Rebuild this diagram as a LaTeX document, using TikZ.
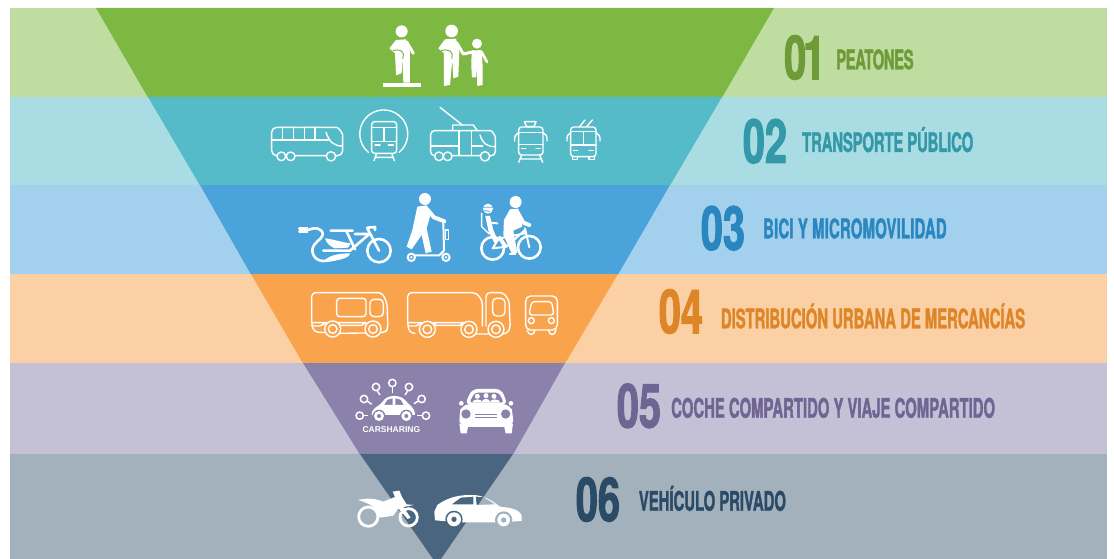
\documentclass[tikz,border=0pt]{standalone}
\usepackage{fontspec}
\newfontfamily\bandfont[FakeStretch=0.55,FakeBold=1.2]{TeX Gyre Heros Bold}
\newfontfamily\numfont[FakeStretch=0.65,FakeBold=1.6]{TeX Gyre Heros Bold}
\newfontfamily\iconfont{Liberation Sans Bold}
\definecolor{verdeL}{HTML}{BFDDA0}
\definecolor{verdeD}{HTML}{7DB942}
\definecolor{verdeT}{HTML}{6E9A38}
\definecolor{turqL}{HTML}{A9DDE3}
\definecolor{turqD}{HTML}{55BBC9}
\definecolor{turqT}{HTML}{3399A8}
\definecolor{azulL}{HTML}{A3D0EC}
\definecolor{azulD}{HTML}{4AA3DB}
\definecolor{azulT}{HTML}{2A86BF}
\definecolor{naraL}{HTML}{FAD0A4}
\definecolor{naraD}{HTML}{F9A44C}
\definecolor{naraT}{HTML}{DE8528}
\definecolor{moraL}{HTML}{C4C1D6}
\definecolor{moraD}{HTML}{8B82AC}
\definecolor{moraT}{HTML}{6E6592}
\definecolor{grisL}{HTML}{A3B1BC}
\definecolor{grisD}{HTML}{4A6580}
\definecolor{grisT}{HTML}{2A4A66}
\tikzset{
  numlabel/.style={anchor=base west,inner sep=0pt,font=\numfont\fontsize{61}{61}\selectfont},
  bandlabel/.style={anchor=base west,inner sep=0pt,font=\bandfont\fontsize{27}{27}\selectfont},
  iconline/.style={draw=white,line width=1.4pt,line cap=round,line join=round},
  iconthick/.style={draw=white,line width=2.6pt,line cap=round,line join=round},
  zoomA/.style={shift={(260,10)},x=0.3333pt,y=-0.3333pt},
  zoomB/.style={shift={(280,180)},x=0.3333pt,y=-0.3333pt},
  zoomC/.style={shift={(340,365)},x=0.3333pt,y=-0.3333pt},
  zoomD/.style={shift={(505,105)},x=0.3333pt,y=-0.3333pt}
}
\begin{document}
\begin{tikzpicture}[x=1pt,y=-1pt]
\useasboundingbox (0,0) rectangle (1114,559);
% bands
\fill [verdeL] (10,8) rectangle (1107,97.5);
\fill [turqL] (10,97) rectangle (1107,185.5);
\fill [azulL] (10,185) rectangle (1107,274.5);
\fill [naraL] (10,274) rectangle (1107,363.5);
\fill [moraL] (10,363) rectangle (1107,454.5);
\fill [grisL] (10,454) rectangle (1107,559);
% funnel
\fill [verdeD] (96,8)--(774,8)--(722,97.5)--(148,97.5)--cycle;
\fill [turqD] (148,97)--(722,97)--(670,185.5)--(200,185.5)--cycle;
\fill [azulD] (200,185)--(670,185)--(618,274.5)--(251,274.5)--cycle;
\fill [naraD] (251,274)--(618,274)--(565,363.5)--(303,363.5)--cycle;
\fill [moraD] (303,363)--(565,363)--(513,454.5)--(360,454.5)--cycle;
\fill [grisD] (360,454)--(513,454)--(441,559)--(433,559)--cycle;
% 01 walkers
\begin{scope}[zoomA]
\fill [white] (370,218) rectangle (482,230);
\fill [white] (425,64) circle (18);
\fill [white] (408,90)--(438,88)--(450,125)--(450,218)--(430,218)--(428,145)--(425,190)--(408,196)--(405,130)--(388,115)--cycle;
\draw [white,line width=3pt,line cap=round] (440,96)--(460,130);
\draw [verdeD,line width=1pt] (398,122) .. controls (420,116) and (436,122) .. (428,146);
\fill [white] (575,63) circle (19);
\fill [white] (555,88)--(588,86)--(598,125)--(595,200)--(580,205)--(577,150)--(570,225)--(552,228)--(552,130)--(535,115)--cycle;
\draw [white,line width=3pt,line cap=round,line join=round] (590,98)--(610,132)--(642,125);
\draw [verdeD,line width=1pt] (543,122) .. controls (565,116) and (582,122) .. (575,146);
\fill [white] (651,101) circle (15);
\fill [white] (635,122)--(665,120)--(668,168)--(668,225)--(652,228)--(650,175)--(648,202)--(636,202)--(634,170)--cycle;
\draw [white,line width=2.6pt,line cap=round] (665,126)--(681,156);
\end{scope}
% 02 transit
\begin{scope}[zoomA]
\draw [iconline,rounded corners=5pt] (35,437)--(35,352)--(215,352) .. controls (235,352) and (248,370) .. (248,390)--(248,437)--cycle;
\draw [iconline] (35,390)--(205,390);
\draw [iconline] (68,352)--(68,390) (100,352)--(100,390) (133,352)--(133,390) (165,352)--(165,390);
\draw [iconline] (198,367) .. controls (208,395) and (220,408) .. (248,408);
\foreach \xw/\rw in {64/13,92/13,213/14}
  \draw [iconline,fill=turqD] (\xw,439) circle (\rw);
\draw [iconline] (325,427) arc [start angle=130,end angle=410,radius=72];
\draw [iconline,rounded corners=3pt] (335,335) rectangle (410,430);
\draw [iconline] (335,352)--(410,352) (372,352)--(372,395) (335,395)--(410,395);
\draw [iconline] (345,405)--(360,405) (385,405)--(400,405);
\draw [iconline] (350,430)--(342,452) (395,430)--(403,452) (347,442)--(398,442);
\draw [iconline] (540,292)--(607,345);
\draw [iconline] (578,362)--(578,345)--(640,345)--(652,362);
\draw [iconline,rounded corners=4pt] (512,437)--(512,362)--(680,362) .. controls (695,362) and (706,375) .. (706,395)--(706,437)--cycle;
\draw [iconline] (597,362)--(597,437) (635,362)--(635,437) (512,408)--(597,408) (635,408)--(668,408);
\draw [iconline] (660,375) .. controls (668,400) and (680,410) .. (706,410);
\foreach \xw/\rw in {537/13,563/13,675/14}
  \draw [iconline,fill=turqD] (\xw,439) circle (\rw);
\end{scope}
\begin{scope}[zoomD]
\draw [iconline] (58,50)--(93,50)--(87,65)--(65,65)--cycle;
\draw [iconline,rounded corners=3pt] (41,66) rectangle (114,150);
\draw [iconline] (41,82)--(114,82) (41,118)--(114,118);
\draw [iconline] (50,130)--(62,130) (93,130)--(105,130);
\draw [iconline,rounded corners=3pt] (29,108)--(29,90)--(41,84) (126,108)--(126,90)--(114,84);
\draw [iconline] (50,150)--(41,172) (104,150)--(113,172) (46,162)--(108,162);
\draw [iconline] (224,65)--(240,45) (245,65)--(262,45);
\draw [iconline,rounded corners=3pt] (197,66) rectangle (273,155);
\draw [iconline] (197,80)--(273,80) (235,80)--(235,120) (197,120)--(273,120);
\draw [iconline] (205,137)--(218,137) (252,137)--(265,137);
\draw [iconline,rounded corners=3pt] (186,108)--(186,90)--(197,84) (285,108)--(285,90)--(273,84);
\draw [iconline] (202,155)--(202,163)--(218,163)--(218,155) (252,155)--(252,163)--(268,163)--(268,155);
\end{scope}
% 03 bikes
\begin{scope}[zoomB]
\fill [white] (68,140) rectangle (85,160);
\draw [iconthick] (58,145)--(68,145) (58,155)--(68,155);
\draw [iconthick] (85,150) .. controls (105,140) and (130,145) .. (128,165) .. controls (125,180) and (100,185) .. (97,210) .. controls (97,235) and (120,250) .. (150,240);
\fill [white] (135,240) .. controls (150,225) and (180,220) .. (211,220) .. controls (208,232) and (190,238) .. (150,245)--cycle;
\fill [white] (135,175) .. controls (170,180) and (190,188) .. (212,190)--(205,203)--(165,205) .. controls (150,200) and (140,190) .. cycle;
\draw [iconthick] (130,212)--(210,212)--(268,162);
\draw [iconthick] (152,152)--(218,152) (200,155)--(225,208) (225,162)--(268,162);
\draw [iconthick] (262,145)--(297,212);
\draw [iconthick] (262,143)--(285,141)--(285,150);
\draw [iconthick] (297,212) circle (35);
% scooter
\fill [white] (435,57) circle (18);
\fill [white] (412,80)--(442,76)--(450,110)--(440,145)--(455,215)--(437,220)--(425,165)--(395,208)--(380,200)--(397,150)--cycle;
\draw [white,line width=4pt,line cap=round,line join=round] (442,88)--(462,112)--(493,124);
\draw [iconline,line width=2pt] (490,125)--(492,212)--(478,226)--(400,226);
\draw [iconline] (497,150) rectangle (505,178);
\draw [iconline,line width=2pt,fill=azulD] (394,232) circle (11);
\draw [iconline,line width=2pt,fill=azulD] (498,232) circle (11);
\fill [white] (394,232) circle (4) (498,232) circle (4);
% bike
\draw [iconthick] (638,205) circle (34);
\draw [iconthick] (748,202) circle (34);
\draw [iconline,line width=2pt] (638,205)--(680,200)--(735,150) (660,170)--(680,200) (660,175)--(735,160) (735,145)--(748,202) (660,170)--(638,205);
\fill [white] (707,66) circle (18);
\fill [white] (690,88)--(715,86)--(727,140)--(700,152)--(712,218)--(696,222)--(670,165)--(672,120)--cycle;
\draw [white,line width=4pt,line cap=round,line join=round] (712,96)--(730,128)--(748,135);
\draw [iconline,line width=2pt] (690,222)--(706,222);
\fill [white] (624,86) circle (15);
\draw [azulD,line width=0.8pt] (610,82)--(638,82) (612,92)--(630,94);
\draw [iconline] (605,100)--(605,140)--(628,162);
\fill [white] (616,108)--(630,108)--(640,150)--(655,184)--(644,190)--(626,155)--cycle;
\draw [white,line width=2pt,line cap=round] (625,128)--(652,130);
\end{scope}
% 04 vans
\begin{scope}[zoomB]
\draw [iconline,rounded corners=4pt] (140,458)--(102,456)--(95,432)--(95,338)--(285,338) .. controls (310,338) and (322,365) .. (322,400)--(324,445)--(316,458)--(180,460)--cycle;
\draw [iconline,rounded corners=3pt] (170,355) rectangle (258,410);
\draw [iconline,rounded corners=4pt] (270,358) rectangle (310,410);
\draw [iconline] (95,428)--(140,428)--(120,438)--(95,438) (172,428)--(258,428)--(245,436)--(178,436)--cycle;
\foreach \xw in {158,279}{
  \draw [iconline,fill=naraD] (\xw,447) circle (24);
  \draw [iconline] (\xw,447) circle (13);
}
\draw [iconline,rounded corners=4pt] (405,460)--(388,458)--(383,430)--(383,338)--(565,338) .. controls (595,338) and (607,360) .. (607,385)--(607,438);
\draw [iconline,rounded corners=4pt] (618,438)--(618,338)--(650,338) .. controls (675,338) and (688,360) .. (688,385)--(691,445)--(680,462)--(590,462);
\draw [iconline,rounded corners=4pt] (638,355) rectangle (675,408);
\draw [iconline] (383,428)--(425,428)--(408,438)--(383,438) (460,428)--(552,428)--(540,436)--(468,436)--cycle;
\foreach \xw in {442,567,648}{
  \draw [iconline,fill=naraD] (\xw,448) circle (24);
  \draw [iconline] (\xw,448) circle (13);
}
\draw [iconline,rounded corners=5pt] (737,348) rectangle (832,450);
\draw [iconline,rounded corners=3pt] (755,365)--(815,365)--(822,405)--(747,405)--cycle;
\draw [iconline] (754,422) circle (9) (814,422) circle (9);
\draw [iconline] (742,450) .. controls (745,468) and (762,468) .. (765,450) (805,450) .. controls (808,468) and (825,468) .. (828,450);
\end{scope}
% 05 shared cars
\begin{scope}[zoomC]
\foreach \xp/\yp/\xa/\ya/\xb/\yb in {59/152/70/152/85/152,72/102/82/108/95/118,108/66/112/78/120/90,157/54/157/66/157/85,207/66/203/78/195/90,245/102/235/108/222/116,258/152/247/152/232/152}{
  \draw [white,line width=1.5pt] (\xp,\yp) circle (11);
  \draw [white,line width=1.5pt] (\xa,\ya)--(\xb,\yb);
}
\fill [white,even odd rule] (95,150) .. controls (95,125) and (120,125) .. (128,110) .. controls (140,88) and (180,88) .. (195,105) .. controls (205,120) and (225,125) .. (225,150)--cycle
  (132,120)--(142,104)--(158,100)--(158,120)--cycle (166,100)--(182,104)--(192,120)--(166,120)--cycle;
\foreach \xw in {117,199}{
  \fill [moraD] (\xw,153) circle (19);
  \fill [white] (\xw,153) circle (15);
  \fill [moraD] (\xw,153) circle (6);
}
\node (carsharing) [text=white,inner sep=0pt,font=\iconfont\fontsize{8.5}{8.5}\selectfont] at (154,194) {CARSHARING};
\fill [white,rounded corners=6pt] (395,72)--(485,72)--(503,120)--(375,120)--cycle;
\fill [moraD,rounded corners=3pt] (404,83)--(476,83)--(492,113)--(388,113)--cycle;
\fill [white] (412,94) circle (7.5) (438,92) circle (7.5) (462,94) circle (7.5);
\fill [white] (396,113) .. controls (400,100) and (424,100) .. (428,113)--cycle;
\fill [white] (424,113) .. controls (428,98) and (448,98) .. (452,113)--cycle;
\fill [white] (449,113) .. controls (452,100) and (476,100) .. (482,113)--cycle;
\fill [white,rounded corners=7pt] (366,118)--(511,118)--(520,150)--(518,186)--(360,186)--(357,150)--cycle;
\fill [white] (364,115) circle (7) (513,115) circle (7);
\fill [white] (358,175)--(384,186)--(380,205)--(362,205)--cycle (519,175)--(493,186)--(497,205)--(515,205)--cycle;
\fill [moraD] (378,147) circle (14) (497,147) circle (14);
\draw [moraD,line width=1pt] (405,150)--(470,150) (405,158)--(470,158);
\end{scope}
% 06 private
\begin{scope}[zoomC]
\draw [white,line width=2.8pt] (85,455) circle (29);
\draw [white,line width=2.8pt] (206,457) circle (26);
\fill [white] (54,405) .. controls (75,400) and (100,398) .. (130,410)--(165,396)--(158,380)--(178,377)--(187,398)--(200,418)--(222,420)--(190,426)--(212,458)--(203,462)--(175,430)--(160,452)--(120,458)--(100,425) .. controls (85,415) and (70,410) .. cycle;
\fill [white,even odd rule] (285,466)--(283,440)--(292,420) .. controls (320,400) and (350,390) .. (390,390) .. controls (425,388) and (455,405) .. (480,425) .. controls (510,428) and (535,432) .. (545,450)--(545,468)--(480,472)--(360,472)--cycle
  (335,418)--(362,398)--(400,395)--(400,418)--cycle (407,395)--(430,396)--(466,418)--(410,420)--cycle;
\fill [grisD] (342,463) circle (26);
\fill [white] (342,463) circle (21);
\fill [grisD] (342,463) circle (8);
\fill [grisL] (491,465) circle (26);
\fill [white] (491,465) circle (19);
\fill [grisL] (491,465) circle (8);
\end{scope}
% labels
\node (num01) [numlabel,text=verdeT] at (784,79.3) {0\kern-3pt 1};
\node (lab01) [bandlabel,text=verdeT] at (836,69.3) {\addfontfeature{LetterSpace=-1.5}PEATONES};
\node (num02) [numlabel,text=turqT] at (742.7,163) {02};
\node (lab02) [bandlabel,text=turqT] at (802,152) {\addfontfeature{LetterSpace=-0.5}TRANSPORTE PÚBLICO};
\node (num03) [numlabel,text=azulT] at (700.7,250) {03};
\node (lab03) [bandlabel,text=azulT] at (763,238.3) {\addfontfeature{LetterSpace=0.8}BICI Y MICROMOVILIDAD};
\node (num04) [numlabel,text=naraT] at (658.7,333.3) {04};
\node (lab04) [bandlabel,text=naraT] at (720.7,328.3) {DISTRIBUCIÓN URBANA DE MERCANCÍAS};
\node (num05) [numlabel,text=moraT] at (616.7,427.7) {05};
\node (lab05) [bandlabel,text=moraT] at (671,417.7) {COCHE COMPARTIDO Y VIAJE COMPARTIDO};
\node (num06) [numlabel,text=grisT] at (575.7,521.3) {06};
\node (lab06) [bandlabel,text=grisT] at (638.7,510.7) {VEHÍCULO PRIVADO};
\end{tikzpicture}
\end{document}
